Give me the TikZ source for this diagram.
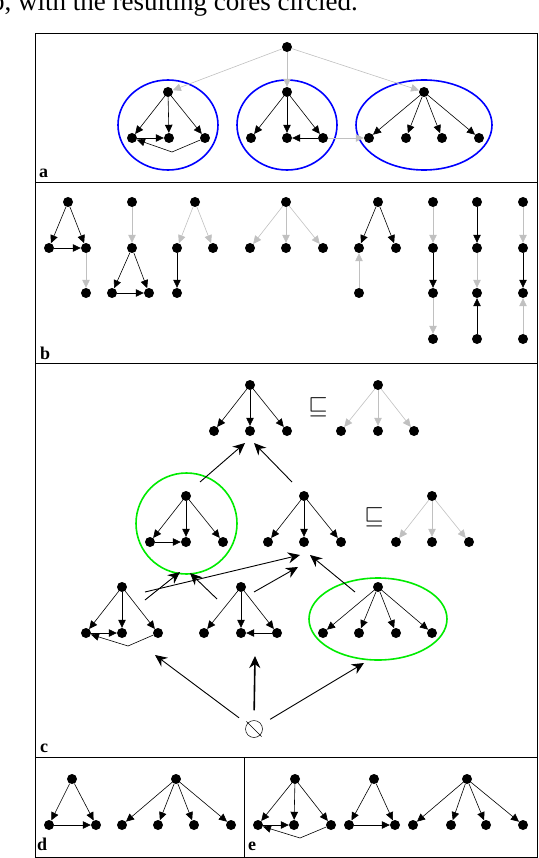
\documentclass[tikz,border=0pt]{standalone}
\usepackage{fontspec}
\setmainfont{Liberation Serif}
\usetikzlibrary{arrows.meta}
\definecolor{lightline}{RGB}{192,192,192}
\definecolor{coregreen}{RGB}{0,235,0}

\begin{document}
\begin{tikzpicture}[x=1pt,y=-1pt,
  dot/.style={circle,fill=black,inner sep=0pt,minimum size=10pt},
  link/.style={-{Triangle[length=8pt,width=7.5pt]},line width=0.6pt},
  grey link/.style={link,draw=lightline,color=lightline},
  core a/.style={draw=blue,line width=1.6pt},
  core c/.style={draw=coregreen,line width=1.6pt},
  big/.style={-{Stealth[length=12pt,width=11pt]},line width=0.9pt},
  panel/.style={font=\fontsize{18}{18}\selectfont\bfseries,anchor=base west,inner sep=0pt},
  order/.style={font=\fontsize{26}{26}\selectfont,inner sep=0pt}]

\useasboundingbox (0,0) rectangle (538,858);

% Legende
\node[anchor=base west,inner sep=0pt,font=\fontsize{27}{27}\selectfont] (cap) at (-9,11) {b, with the resulting cores circled.};

% Cadres
\draw[line width=0.8pt] (35,33) rectangle (537,857);
\draw[line width=0.8pt] (35,182) -- (537,182);
\draw[line width=0.8pt] (35,363) -- (537,363);
\draw[line width=0.8pt] (35,757) -- (537,757);
\draw[line width=0.8pt] (244,757) -- (244,857);

% a
\node[dot] (r) at (287,47) {};
\node[dot] (a1) at (168,92) {};
\node[dot] (a1l) at (132,138) {};
\node[dot] (a1m) at (169,138) {};
\node[dot] (a1r) at (205,138) {};
\coordinate (a1k) at (172,152);
\node[dot] (a2) at (287,92) {};
\node[dot] (a2l) at (251,138) {};
\node[dot] (a2m) at (287,138) {};
\node[dot] (a2r) at (323,138) {};
\node[dot] (a3) at (424,92) {};
\node[dot] (a3p) at (369,138) {};
\node[dot] (a3q) at (406,138) {};
\node[dot] (a3s) at (442,138) {};
\node[dot] (a3t) at (479,138) {};

\draw[core a] (168,125) ellipse [x radius=50pt,y radius=45pt];
\draw[core a] (287,125) ellipse [x radius=50pt,y radius=45pt];
\draw[core a] (424,125) ellipse [x radius=68pt,y radius=45pt];

\draw[link] (a1) -- (a1l);
\draw[link] (a1) -- (a1m);
\draw[link] (a1) -- (a1r);
\draw[link] (a1l) -- (a1m);
\draw[link] (a1r) -- (a1k) -- (a1l);
\draw[link] (a2) -- (a2l);
\draw[link] (a2) -- (a2m);
\draw[link] (a2) -- (a2r);
\draw[link] (a2r) -- (a2m);
\draw[link] (a3) -- (a3p);
\draw[link] (a3) -- (a3q);
\draw[link] (a3) -- (a3s);
\draw[link] (a3) -- (a3t);
\draw[grey link] (r) -- (a1);
\draw[grey link] (r) -- (a2);
\draw[grey link] (r) -- (a3);
\draw[grey link] (a2r) -- (a3p);

\node[panel] (la) at (39,178) {a};

% b
\node[dot] (b1) at (68,202) {};
\node[dot] (b1l) at (49,248) {};
\node[dot] (b1r) at (86,248) {};
\node[dot] (b1d) at (86,293) {};
\draw[link] (b1) -- (b1l);
\draw[link] (b1) -- (b1r);
\draw[link] (b1l) -- (b1r);
\draw[grey link] (b1r) -- (b1d);

\node[dot] (b2) at (132,202) {};
\node[dot] (b2m) at (132,248) {};
\node[dot] (b2l) at (112,293) {};
\node[dot] (b2r) at (149,293) {};
\draw[grey link] (b2) -- (b2m);
\draw[link] (b2m) -- (b2l);
\draw[link] (b2m) -- (b2r);
\draw[link] (b2l) -- (b2r);

\node[dot] (b3) at (195,202) {};
\node[dot] (b3l) at (177,248) {};
\node[dot] (b3r) at (213,248) {};
\node[dot] (b3d) at (177,293) {};
\draw[grey link] (b3) -- (b3l);
\draw[grey link] (b3) -- (b3r);
\draw[link] (b3l) -- (b3d);

\node[dot] (b4) at (286,202) {};
\node[dot] (b4l) at (250,248) {};
\node[dot] (b4m) at (286,248) {};
\node[dot] (b4r) at (323,248) {};
\draw[grey link] (b4) -- (b4l);
\draw[grey link] (b4) -- (b4m);
\draw[grey link] (b4) -- (b4r);

\node[dot] (b5) at (378,202) {};
\node[dot] (b5l) at (359,248) {};
\node[dot] (b5r) at (396,248) {};
\node[dot] (b5d) at (359,293) {};
\draw[link] (b5) -- (b5l);
\draw[link] (b5) -- (b5r);
\draw[grey link] (b5d) -- (b5l);

\node[dot] (b6a) at (433,202) {};
\node[dot] (b6b) at (433,248) {};
\node[dot] (b6c) at (433,293) {};
\node[dot] (b6d) at (433,339) {};
\draw[grey link] (b6a) -- (b6b);
\draw[link] (b6b) -- (b6c);
\draw[grey link] (b6c) -- (b6d);

\node[dot] (b7a) at (477,202) {};
\node[dot] (b7b) at (477,248) {};
\node[dot] (b7c) at (477,293) {};
\node[dot] (b7d) at (477,339) {};
\draw[link] (b7a) -- (b7b);
\draw[grey link] (b7b) -- (b7c);
\draw[link] (b7d) -- (b7c);

\node[dot] (b8a) at (523,202) {};
\node[dot] (b8b) at (523,248) {};
\node[dot] (b8c) at (523,293) {};
\node[dot] (b8d) at (523,339) {};
\draw[grey link] (b8a) -- (b8b);
\draw[link] (b8b) -- (b8c);
\draw[grey link] (b8d) -- (b8c);

\node[panel] (lb) at (40,359) {b};

% c, rang du haut
\node[dot] (c1) at (250,385) {};
\node[dot] (c1l) at (214,431) {};
\node[dot] (c1m) at (250,431) {};
\node[dot] (c1r) at (287,431) {};
\draw[link] (c1) -- (c1l);
\draw[link] (c1) -- (c1m);
\draw[link] (c1) -- (c1r);
\node[order] (sq1) at (318,407) {$\sqsubseteq$};
\node[dot] (g1) at (378,385) {};
\node[dot] (g1l) at (341,431) {};
\node[dot] (g1m) at (378,431) {};
\node[dot] (g1r) at (414,431) {};
\draw[grey link] (g1) -- (g1l);
\draw[grey link] (g1) -- (g1m);
\draw[grey link] (g1) -- (g1r);

% c, rang du milieu
\draw[core c] (186.5,523.5) circle [radius=50.5pt];
\node[dot] (c2) at (186,496) {};
\node[dot] (c2l) at (150,542) {};
\node[dot] (c2m) at (186,542) {};
\node[dot] (c2r) at (223,542) {};
\draw[link] (c2) -- (c2l);
\draw[link] (c2) -- (c2m);
\draw[link] (c2) -- (c2r);
\draw[link] (c2l) -- (c2m);
\node[dot] (c3) at (304,496) {};
\node[dot] (c3l) at (268,542) {};
\node[dot] (c3m) at (304,542) {};
\node[dot] (c3r) at (341,542) {};
\draw[link] (c3) -- (c3l);
\draw[link] (c3) -- (c3m);
\draw[link] (c3) -- (c3r);
\node[order] (sq2) at (374,517) {$\sqsubseteq$};
\node[dot] (g2) at (432,496) {};
\node[dot] (g2l) at (396,542) {};
\node[dot] (g2m) at (432,542) {};
\node[dot] (g2r) at (469,542) {};
\draw[grey link] (g2) -- (g2l);
\draw[grey link] (g2) -- (g2m);
\draw[grey link] (g2) -- (g2r);

% c, rang du bas
\node[dot] (c4) at (122,587) {};
\node[dot] (c4l) at (86,633) {};
\node[dot] (c4m) at (122,633) {};
\node[dot] (c4r) at (158,633) {};
\coordinate (c4k) at (128,646);
\draw[link] (c4) -- (c4l);
\draw[link] (c4) -- (c4m);
\draw[link] (c4) -- (c4r);
\draw[link] (c4l) -- (c4m);
\draw[link] (c4r) -- (c4k) -- (c4l);
\node[dot] (c5) at (241,587) {};
\node[dot] (c5l) at (204,633) {};
\node[dot] (c5m) at (241,633) {};
\node[dot] (c5r) at (277,633) {};
\draw[link] (c5) -- (c5l);
\draw[link] (c5) -- (c5m);
\draw[link] (c5) -- (c5r);
\draw[link] (c5r) -- (c5m);
\draw[core c] (378,619) ellipse [x radius=69pt,y radius=41pt];
\node[dot] (c6) at (378,587) {};
\node[dot] (c6p) at (323,633) {};
\node[dot] (c6q) at (359,633) {};
\node[dot] (c6s) at (396,633) {};
\node[dot] (c6t) at (432,633) {};
\draw[link] (c6) -- (c6p);
\draw[link] (c6) -- (c6q);
\draw[link] (c6) -- (c6s);
\draw[link] (c6) -- (c6t);

% c, ordre
\coordinate (u1) at (200,482);
\coordinate (v1) at (245,443);
\coordinate (u2) at (292,482);
\coordinate (v2) at (254,443);
\draw[big] (u1) -- (v1);
\draw[big] (u2) -- (v2);
\coordinate (u3) at (145,600);
\coordinate (v3) at (180,572);
\coordinate (u4) at (145,592);
\coordinate (v4) at (300,555);
\coordinate (u5) at (217,599);
\coordinate (v5) at (190,573);
\coordinate (u6) at (254,592);
\coordinate (v6) at (298,567);
\coordinate (u7) at (355,592);
\coordinate (v7) at (310,555);
\draw[big] (u3) -- (v3);
\draw[big] (u4) -- (v4);
\draw[big] (u5) -- (v5);
\draw[big] (u6) -- (v6);
\draw[big] (u7) -- (v7);

\node[circle,draw,line width=0.5pt,inner sep=0pt,minimum size=17pt] (nil) at (254,729) {};
\draw[line width=0.5pt,shorten <=-2pt,shorten >=-2pt] (nil.135) -- (nil.-45);
\coordinate (w1) at (155,655);
\coordinate (w2) at (255,656);
\coordinate (w3) at (364,663);
\draw[big,shorten <=10pt] (nil) -- (w1);
\draw[big,line width=1.6pt,shorten <=10pt] (nil.north) -- (w2);
\draw[big,shorten <=10pt] (nil) -- (w3);

\node[panel] (lc) at (40,752) {c};

% d
\node[dot] (d1) at (72,779) {};
\node[dot] (d1l) at (49,825) {};
\node[dot] (d1r) at (96,825) {};
\draw[link] (d1) -- (d1l);
\draw[link] (d1) -- (d1r);
\draw[link] (d1l) -- (d1r);
\node[dot] (d2) at (176,779) {};
\node[dot] (d2p) at (122,825) {};
\node[dot] (d2q) at (158,825) {};
\node[dot] (d2s) at (194,825) {};
\node[dot] (d2t) at (231,825) {};
\draw[link] (d2) -- (d2p);
\draw[link] (d2) -- (d2q);
\draw[link] (d2) -- (d2s);
\draw[link] (d2) -- (d2t);
\node[panel] (ld) at (37,850) {d};

% e
\node[dot] (e1) at (295,779) {};
\node[dot] (e1l) at (258,825) {};
\node[dot] (e1m) at (294,825) {};
\node[dot] (e1r) at (331,825) {};
\coordinate (e1k) at (300,838);
\draw[link] (e1) -- (e1l);
\draw[link] (e1) -- (e1m);
\draw[link] (e1) -- (e1r);
\draw[link] (e1l) -- (e1m);
\draw[link] (e1r) -- (e1k) -- (e1l);
\node[dot] (e2) at (374,779) {};
\node[dot] (e2l) at (349,825) {};
\node[dot] (e2r) at (395,825) {};
\draw[link] (e2) -- (e2l);
\draw[link] (e2) -- (e2r);
\draw[link] (e2l) -- (e2r);
\node[dot] (e3) at (467,779) {};
\node[dot] (e3p) at (413,825) {};
\node[dot] (e3q) at (451,825) {};
\node[dot] (e3s) at (486,825) {};
\node[dot] (e3t) at (523,825) {};
\draw[link] (e3) -- (e3p);
\draw[link] (e3) -- (e3q);
\draw[link] (e3) -- (e3s);
\draw[link] (e3) -- (e3t);
\node[panel] (le) at (248,850) {e};

\end{tikzpicture}
\end{document}
